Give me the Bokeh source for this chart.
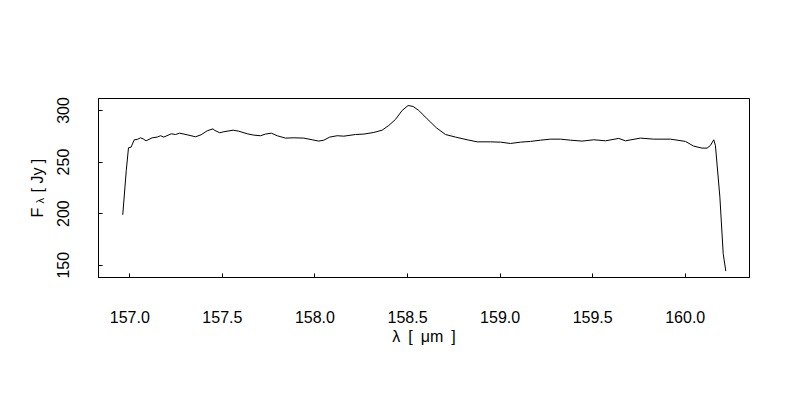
import math
from bokeh.plotting import figure
from bokeh.layouts import row
from bokeh.models import Range1d, FixedTicker, Label
from bokeh.embed import file_html
from bokeh.resources import INLINE

wavelength = [156.962, 156.981, 156.993, 157.007, 157.024, 157.040, 157.058, 157.072, 157.088, 157.121,
              157.148, 157.166, 157.184, 157.224, 157.247, 157.270, 157.310, 157.355, 157.385, 157.418,
              157.450, 157.456, 157.486, 157.508, 157.558, 157.589, 157.634, 157.670, 157.706, 157.733,
              157.765, 157.796, 157.841, 157.886, 157.940, 157.985, 158.021, 158.048, 158.080, 158.120,
              158.156, 158.219, 158.264, 158.318, 158.363, 158.399, 158.435, 158.471, 158.503, 158.530,
              158.561, 158.606, 158.656, 158.705, 158.759, 158.822, 158.876, 158.948, 159.002, 159.056,
              159.110, 159.164, 159.218, 159.272, 159.326, 159.380, 159.443, 159.506, 159.569, 159.641,
              159.677, 159.758, 159.830, 159.920, 160.001, 160.046, 160.091, 160.118, 160.136, 160.154,
              160.163, 160.187, 160.205, 160.219]
flux = [198.9, 241.9, 263.8, 264.4, 271.6, 271.9, 273.5, 272.5, 270.6, 273.5,
        274.2, 275.5, 274.2, 277.4, 276.7, 278.0, 276.4, 274.5, 276.4, 280.3,
        282.2, 280.9, 278.4, 279.4, 280.9, 279.9, 277.4, 276.1, 275.5, 277.1,
        278.0, 275.5, 273.2, 273.5, 273.2, 271.6, 270.3, 271.2, 274.2, 275.5,
        275.1, 276.7, 277.1, 278.7, 280.9, 285.5, 291.3, 300.0, 304.8, 303.9,
        300.0, 291.9, 283.2, 276.7, 274.2, 271.6, 269.6, 269.6, 269.3, 268.0,
        269.3, 270.0, 271.2, 272.2, 272.2, 271.2, 270.3, 271.6, 270.6, 272.9,
        270.6, 273.2, 272.2, 272.2, 270.0, 265.4, 263.5, 263.5, 266.1, 271.6,
        266.1, 216.0, 161.1, 144.3]

x_ticks = [157.0, 157.5, 158.0, 158.5, 159.0, 159.5, 160.0]
y_ticks = [150, 200, 250, 300]
x_label = "λ\u2002[\u2002μm\u2002]"
y_label_main = "F"
y_label_sub = "λ"
y_label_unit = "[ Jy ]"

FONT = "Liberation Sans"
H = 384
LW = 50          # width of the strip that holds the y-axis title
W = 784 - LW
FRAME_BOTTOM = 277  # page y of the plot frame's bottom edge (frames are aligned in the row)

# strip holding the y-axis title (F with subscript lambda)
lab = figure(width=LW, height=H, output_backend="svg", toolbar_location=None,
             x_axis_location=None, y_axis_location=None,
             min_border_left=0, min_border_right=0, min_border_top=0, min_border_bottom=0,
             background_fill_color="white", border_fill_color="white")
lab.outline_line_color = None
lab.grid.visible = False
common = dict(x_units="screen", y_units="screen", angle=math.pi / 2,
              text_font=FONT, text_color="black", text_baseline="alphabetic", text_align="left")
lab.add_layout(Label(x=37, y=FRAME_BOTTOM - 217, text=y_label_main, text_font_size="16px", **common))
lab.add_layout(Label(x=39, y=FRAME_BOTTOM - 203, text=y_label_sub, text_font_size="11px", **common))
lab.add_layout(Label(x=37, y=FRAME_BOTTOM - 192, text=y_label_unit, text_font_size="16px", **common))

p = figure(width=W, height=H, output_backend="svg", toolbar_location=None,
           x_range=Range1d(156.831, 160.347), y_range=Range1d(138.1, 311.6),
           min_border_left=98 - LW, min_border_right=35, min_border_top=98, min_border_bottom=107,
           background_fill_color="white", border_fill_color="white")
p.outline_line_color = "black"
p.outline_line_width = 1
p.grid.visible = False

p.line(wavelength, flux, line_color="black", line_width=1)

for ax in (p.xaxis[0], p.yaxis[0]):
    ax.axis_line_color = "black"
    ax.major_tick_line_color = "black"
    ax.major_tick_in = 4
    ax.major_tick_out = 0
    ax.minor_tick_line_color = None
    ax.major_label_text_font = FONT
    ax.major_label_text_font_size = "16px"
    ax.major_label_text_color = "black"
    ax.axis_label_text_font = FONT
    ax.axis_label_text_font_size = "16px"
    ax.axis_label_text_font_style = "normal"
    ax.axis_label_text_color = "black"

p.xaxis.ticker = FixedTicker(ticks=x_ticks)
p.xaxis.major_label_overrides = {t: f"{t:.1f}" for t in x_ticks}
p.xaxis.major_label_standoff = 33
p.xaxis.axis_label = x_label
p.xaxis.axis_label_standoff = 2

p.yaxis.ticker = FixedTicker(ticks=y_ticks)
p.yaxis.major_label_orientation = "vertical"
p.yaxis.major_label_standoff = 29

layout = row(lab, p, spacing=0)
open("out.html", "w").write(file_html(layout, INLINE))
